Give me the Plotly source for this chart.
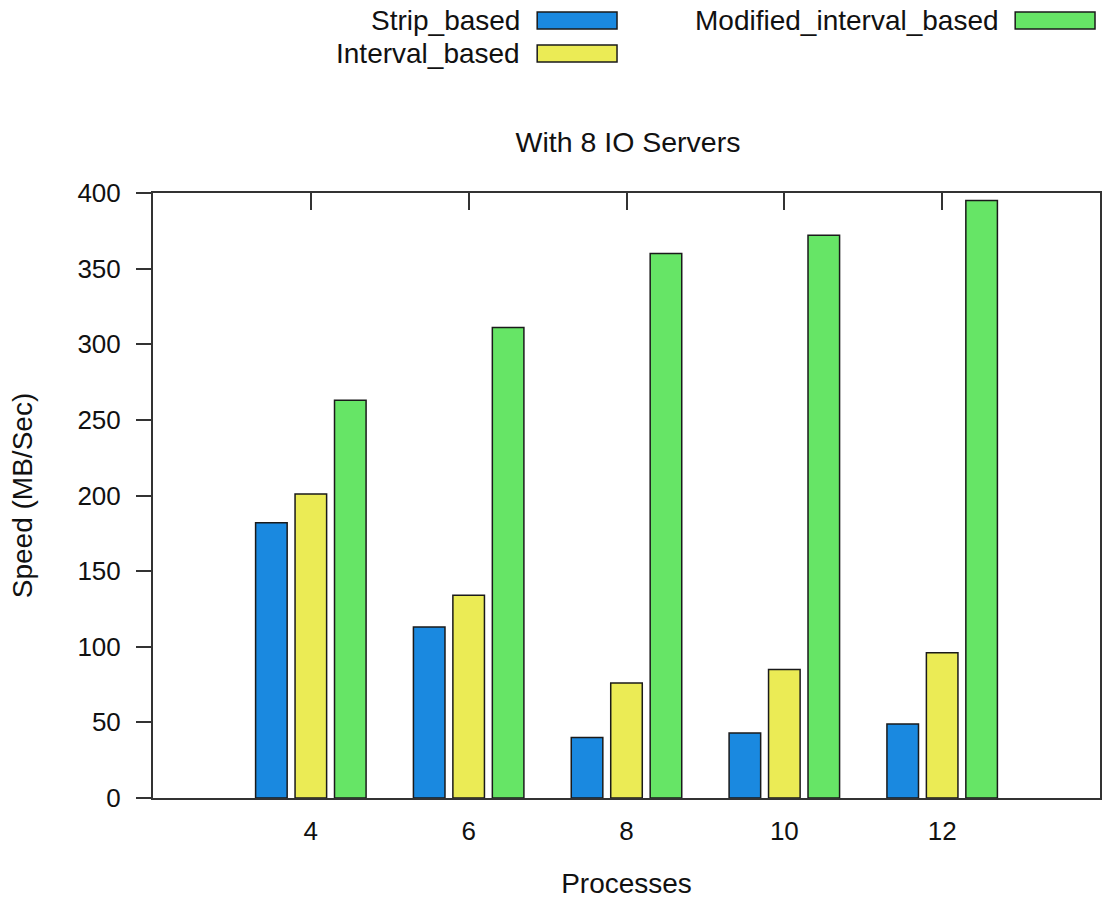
import plotly.graph_objects as go

processes = [4, 6, 8, 10, 12]
strip_based = [182, 113, 40, 43, 49]
interval_based = [201, 134, 76, 85, 96]
modified_interval_based = [263, 311, 360, 372, 395]

series_names = ["Strip_based", "Interval_based", "Modified_interval_based"]
series_colors = ["#1a89e0", "#ebeb55", "#66e566"]
y_ticks = [0, 50, 100, 150, 200, 250, 300, 350, 400]

FONT = "Liberation Sans, Arial, sans-serif"
FS = 26
FS_TITLE = 28.5
FS_AX = 28
FS_LEG = 28
W, H = 1104, 900
L, T = 153, 193
R = W - 1102
B = H - 798

fig = go.Figure()
for name, vals, col in zip(series_names,
                           [strip_based, interval_based, modified_interval_based],
                           series_colors):
    fig.add_trace(go.Bar(x=processes, y=vals, name=name, marker_color=col,
                         marker_line_color="#1a1a1a", marker_line_width=1.5,
                         showlegend=False))

axis_col = "#333333"
fig.update_layout(
    width=W, height=H,
    margin=dict(l=L, r=R, t=T, b=B, pad=0),
    paper_bgcolor="white", plot_bgcolor="white",
    barmode="group", bargap=0.25, bargroupgap=0.2,
    font=dict(family=FONT, size=FS, color="#111111"),
    title=dict(text="With 8 IO Servers", x=628 / W, xanchor="center",
               y=1 - 142 / H, yanchor="middle", font=dict(size=FS_TITLE)),
    xaxis=dict(range=[2, 14], tickvals=processes, ticktext=[str(p) for p in processes],
               ticks="inside", ticklen=17, tickwidth=2, tickcolor=axis_col,
               showline=True, linecolor=axis_col, linewidth=2, mirror="ticks",
               showgrid=False, zeroline=False, ticklabelstandoff=9,
               layer="below traces",
               title=dict(text="Processes", standoff=28, font=dict(size=FS_AX))),
    yaxis=dict(range=[0, 400], tickvals=y_ticks, ticks="outside", ticklen=15,
               tickwidth=2, tickcolor=axis_col, showline=True, linecolor=axis_col,
               linewidth=2, mirror=True, showgrid=False, zeroline=False,
               ticklabelstandoff=10,
               title=dict(text="Speed (MB/Sec)", standoff=37, font=dict(size=FS_AX))),
)

# Custom gnuplot-style legend (label left of swatch)
def px_x(px):
    return (px - L) / (W - L - R)

def px_y(py):
    return (H - B - py) / (H - T - B)

legend_items = [
    (series_names[0], series_colors[0], 522, 538, 618, 12, 29),
    (series_names[1], series_colors[1], 522, 538, 618, 45, 62),
    (series_names[2], series_colors[2], 1002, 1017, 1097, 12, 29),
]
for name, col, tx, x0, x1, y0, y1 in legend_items:
    fig.add_annotation(text=name, xref="paper", yref="paper", x=px_x(tx),
                       y=px_y((y0 + y1) / 2), xanchor="right", yanchor="middle",
                       showarrow=False, borderpad=0, font=dict(size=FS_LEG))
    fig.add_shape(type="rect", xref="paper", yref="paper", x0=px_x(x0), x1=px_x(x1),
                  y0=px_y(y1), y1=px_y(y0), fillcolor=col,
                  line=dict(color="#1a1a1a", width=1.5))

fig.write_html("out.html", config={"displayModeBar": False},
               post_script="document.body.style.margin='0';document.body.style.overflow='hidden';")
